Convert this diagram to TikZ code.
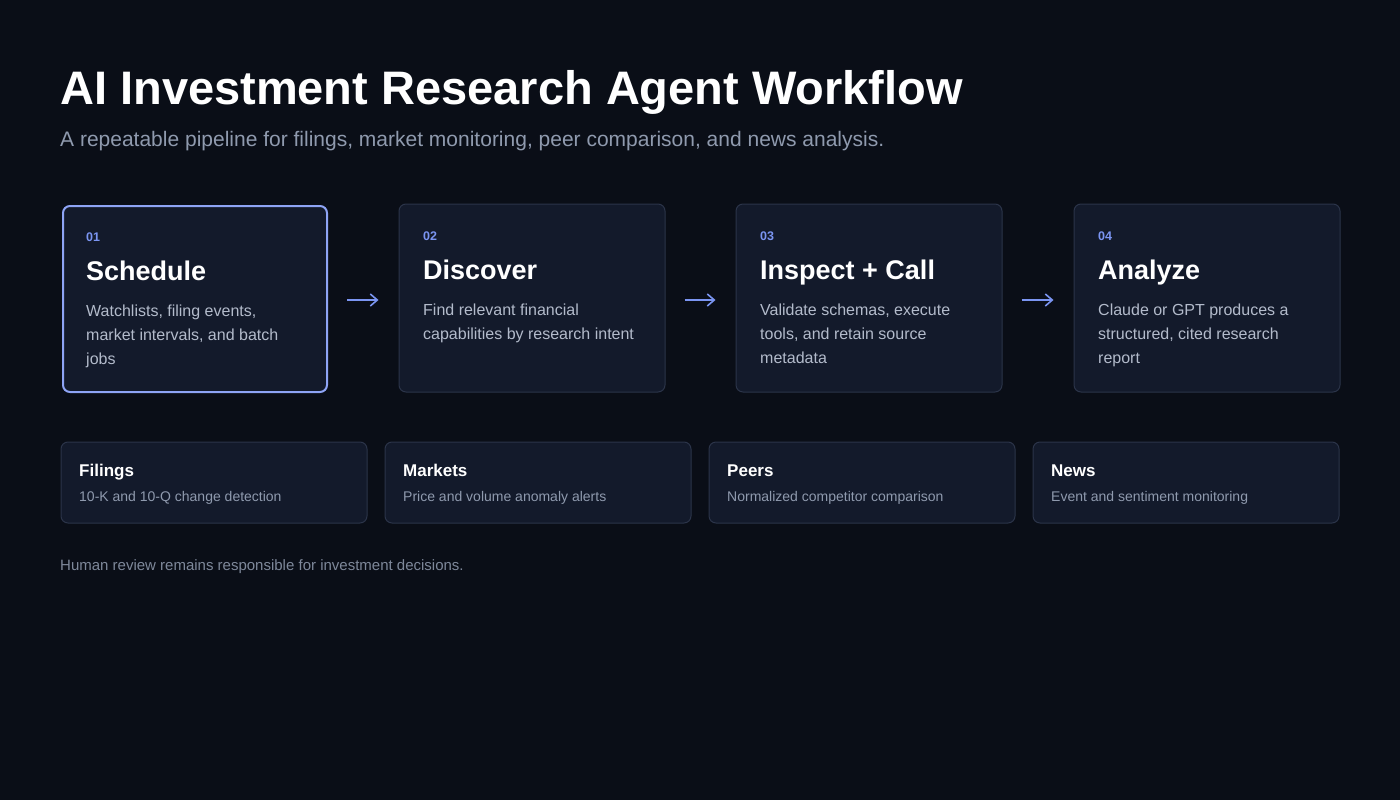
\documentclass[tikz,border=0pt]{standalone}
\usepackage{fontspec}
\setmainfont{Liberation Sans}
\usetikzlibrary{arrows.meta}
\definecolor{bg}{HTML}{0A0E17}
\definecolor{cardfill}{HTML}{131A2B}
\definecolor{cardline}{HTML}{2B3449}
\definecolor{hiline}{HTML}{8EA4F5}
\definecolor{accent}{HTML}{7B95F2}
\definecolor{bodytxt}{HTML}{B3BBCB}
\definecolor{subtxt}{HTML}{8F9AAE}
\definecolor{foottxt}{HTML}{7E889A}
\tikzset{
  x=1pt, y=-1pt,
  stepcard/.style={draw=cardline, line width=1pt, fill=cardfill, rounded corners=7pt, minimum width=266pt, minimum height=188pt, inner sep=0pt},
  hicard/.style={stepcard, draw=hiline, line width=2pt, minimum width=264pt, minimum height=186pt},
  tagcard/.style={draw=cardline, line width=1pt, fill=cardfill, rounded corners=7pt, minimum width=306pt, minimum height=81pt, inner sep=0pt},
  numtxt/.style={anchor=base west, inner sep=0pt, text=accent, font=\fontsize{12.5}{15}\selectfont\bfseries},
  headtxt/.style={anchor=base west, inner sep=0pt, text=white, font=\fontsize{27}{32}\selectfont\bfseries},
  bodyline/.style={anchor=base west, inner sep=0pt, text=bodytxt, font=\fontsize{16}{24}\selectfont},
  tagtitle/.style={anchor=base west, inner sep=0pt, text=white, font=\fontsize{17}{20}\selectfont\bfseries},
  tagsub/.style={anchor=base west, inner sep=0pt, text=subtxt, font=\fontsize{14}{17}\selectfont},
  flow/.style={draw=accent, line width=1.6pt, -{Straight Barb[length=7pt,width=12pt]}, shorten >=20pt, shorten <=19pt}
}
\begin{document}
\begin{tikzpicture}
\fill[bg] (0,0) rectangle (1400,800);
\useasboundingbox (0,0) rectangle (1400,800);

\node[anchor=base west, inner sep=0pt, text=white, font=\fontsize{47}{55}\selectfont\bfseries] (title) at (60,104) {AI Investment Research Agent Workflow};
\node[anchor=base west, inner sep=0pt, text=subtxt, font=\fontsize{21}{25}\selectfont] (subtitle) at (60,146) {A repeatable pipeline for filings, market monitoring, peer comparison, and news analysis.};

% step cards
\node[hicard, anchor=north west] (c1) at (62,205) {};
\node[stepcard, anchor=north west] (c2) at (398.5,203.5) {};
\node[stepcard, anchor=north west] (c3) at (735.5,203.5) {};
\node[stepcard, anchor=north west] (c4) at (1073.5,203.5) {};

\node[numtxt] (n1) at (86,241) {01};
\node[headtxt] (h1) at (86,280) {Schedule};
\node[bodyline] (b1a) at (86,316) {Watchlists, filing events,};
\node[bodyline] (b1b) at (86,340) {market intervals, and batch};
\node[bodyline] (b1c) at (86,364) {jobs};

\node[numtxt] (n2) at (423,240) {02};
\node[headtxt] (h2) at (423,279) {Discover};
\node[bodyline] (b2a) at (423,315) {Find relevant financial};
\node[bodyline] (b2b) at (423,339) {capabilities by research intent};

\node[numtxt] (n3) at (760,240) {03};
\node[headtxt] (h3) at (760,279) {Inspect + Call};
\node[bodyline] (b3a) at (760,315) {Validate schemas, execute};
\node[bodyline] (b3b) at (760,339) {tools, and retain source};
\node[bodyline] (b3c) at (760,363) {metadata};

\node[numtxt] (n4) at (1098,240) {04};
\node[headtxt] (h4) at (1098,279) {Analyze};
\node[bodyline] (b4a) at (1098,315) {Claude or GPT produces a};
\node[bodyline] (b4b) at (1098,339) {structured, cited research};
\node[bodyline] (b4c) at (1098,363) {report};

\draw[flow] ([yshift=-2pt]c2.west -| c1.east) -- ([yshift=-2pt]c2.west);
\draw[flow] ([yshift=-2pt]c2.east) -- ([yshift=-2pt]c3.west);
\draw[flow] ([yshift=-2pt]c3.east) -- ([yshift=-2pt]c4.west);

% tag cards
\node[tagcard, anchor=north west] (t1) at (60.5,441.5) {};
\node[tagcard, anchor=north west] (t2) at (384.5,441.5) {};
\node[tagcard, anchor=north west] (t3) at (708.5,441.5) {};
\node[tagcard, anchor=north west] (t4) at (1032.5,441.5) {};

\node[tagtitle] (tt1) at (79,476) {Filings};
\node[tagsub] (ts1) at (79,501) {10-K and 10-Q change detection};
\node[tagtitle] (tt2) at (403,476) {Markets};
\node[tagsub] (ts2) at (403,501) {Price and volume anomaly alerts};
\node[tagtitle] (tt3) at (727,476) {Peers};
\node[tagsub] (ts3) at (727,501) {Normalized competitor comparison};
\node[tagtitle] (tt4) at (1051,476) {News};
\node[tagsub] (ts4) at (1051,501) {Event and sentiment monitoring};

\node[anchor=base west, inner sep=0pt, text=foottxt, font=\fontsize{15}{18}\selectfont] (foot) at (60,570) {Human review remains responsible for investment decisions.};
\end{tikzpicture}
\end{document}
